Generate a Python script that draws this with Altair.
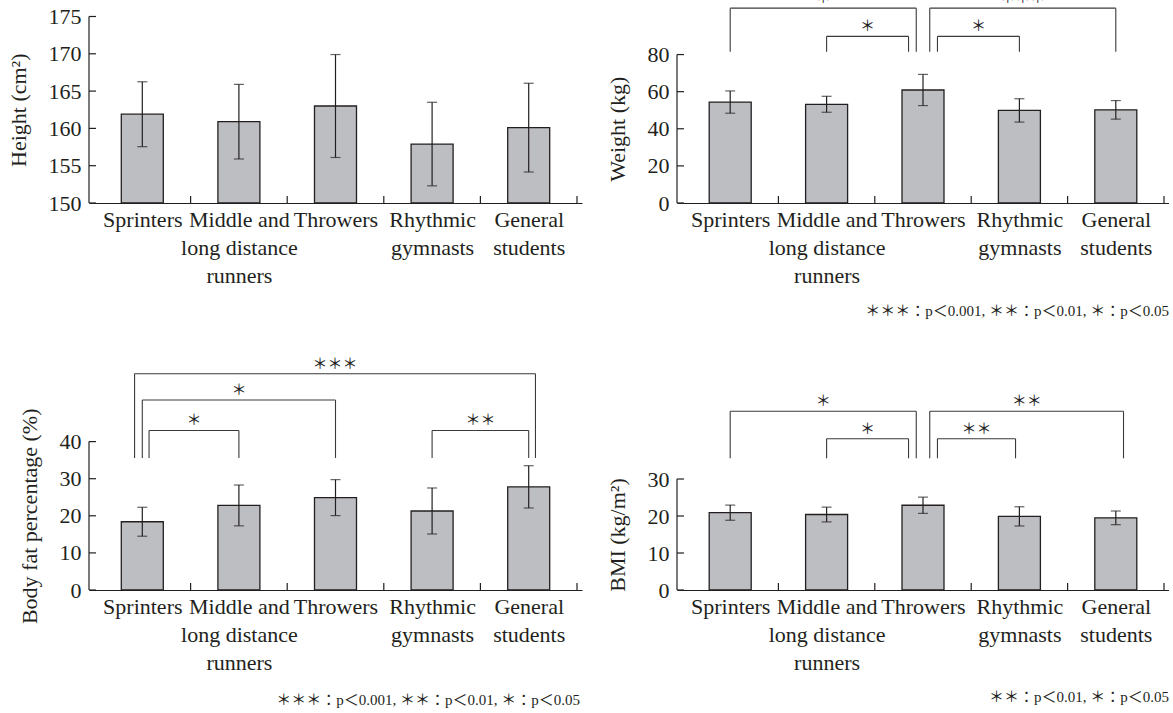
import json
import altair as alt
import pandas as pd

# ---------------- data ----------------
categories = ["Sprinters", "Middle and\nlong distance\nrunners", "Throwers",
              "Rhythmic\ngymnasts", "General\nstudents"]
cat_index = [0, 1, 2, 3, 4]
boundaries = [0.5, 1.5, 2.5, 3.5, 4.5]

height_mean = [161.9, 160.9, 163.0, 157.9, 160.1]
height_sd = [4.35, 5.0, 6.9, 5.6, 5.95]
weight_mean = [54.4, 53.2, 60.9, 49.9, 50.2]
weight_sd = [6.0, 4.3, 8.4, 6.3, 5.0]
fat_mean = [18.4, 22.8, 24.9, 21.3, 27.8]
fat_sd = [3.9, 5.5, 4.85, 6.2, 5.7]
bmi_mean = [20.9, 20.4, 22.9, 19.9, 19.5]
bmi_sd = [2.05, 2.0, 2.2, 2.6, 1.85]

height_ticks = [150, 155, 160, 165, 170, 175]
weight_ticks = [0, 20, 40, 60, 80]
fat_ticks = [0, 10, 20, 30, 40]
bmi_ticks = [0, 10, 20, 30]

# significance brackets: left end, right end, top level, label
weight_br_x1 = [0.0, 1.0, 2.15, 2.07]
weight_br_x2 = [1.93, 1.85, 3.0, 4.0]
weight_br_top = [105.0, 89.8, 89.8, 105.0]
weight_br_label = ["＊", "＊", "＊", "＊＊＊"]
weight_leg_bottom = 81.5

fat_br_x1 = [-0.08, 0.0, 0.07, 3.0]
fat_br_x2 = [4.07, 2.0, 1.0, 4.0]
fat_br_top = [58.3, 51.2, 43.0, 43.0]
fat_br_label = ["＊＊＊", "＊", "＊", "＊＊"]
fat_leg_bottom = 35.6

bmi_br_x1 = [0.0, 1.0, 2.15, 2.07]
bmi_br_x2 = [1.93, 1.85, 2.96, 4.08]
bmi_br_top = [48.3, 40.9, 40.9, 48.3]
bmi_br_label = ["＊", "＊", "＊＊", "＊＊"]
bmi_leg_bottom = 35.6

note3 = "＊＊＊：p＜0.001, ＊＊：p＜0.01, ＊：p＜0.05"
note2 = "＊＊：p＜0.01, ＊：p＜0.05"

# ---------------- style ----------------
SERIF = "Liberation Serif, Noto Sans CJK JP"
INK = "#231f20"
LINE = "#3a3a3a"
BAR_FILL = "#bdbec2"

label_lines = [c.split("\n") for c in categories]
label_expr = json.dumps(label_lines) + "[round(datum.value)]"


def make_panel(means, sds, base, ymax, ticks, ytitle, W, H,
               br=None, leg_bottom=None, note=None, note_dx=0, note_dy=108):
    df = pd.DataFrame({"idx": cat_index, "mean": means, "sd": sds})
    df["base"] = base
    df["lo"] = df["mean"] - df["sd"]
    df["hi"] = df["mean"] + df["sd"]

    xs = alt.Scale(domain=[-0.5, 4.5], nice=False, zero=False)
    ys = alt.Scale(domain=[base, ymax], nice=False, zero=False)
    center_px = H * (ymax - (ticks[0] + ticks[-1]) / 2) / (ymax - base)

    xaxis = alt.Axis(values=cat_index, labelExpr=label_expr, title=None,
                     grid=False, ticks=False, tickSize=0, domain=True,
                     domainColor=INK, domainWidth=1.2, labelFont=SERIF,
                     labelFontSize=22, labelColor=INK, labelPadding=6,
                     labelOverlap=False, labelFlush=False, labelLineHeight=28)
    yaxis = alt.Axis(values=ticks, title=ytitle, grid=False, ticks=False,
                     tickSize=0, domain=False, labelFont=SERIF,
                     labelFontSize=22, labelColor=INK, labelPadding=8,
                     titleFont=SERIF, titleFontSize=22,
                     titleFontWeight="normal", titleColor=INK,
                     titlePadding=18, titleY=center_px)

    def X(f):
        return alt.X(f, type="quantitative", scale=xs, axis=xaxis)

    def Y(f):
        return alt.Y(f, type="quantitative", scale=ys, axis=yaxis)

    base_chart = alt.Chart(df)
    bars = base_chart.mark_bar(size=42, fill=BAR_FILL, stroke=INK,
                               strokeWidth=1.3).encode(
        x=X("idx"), y=Y("mean"), y2="base")
    err = base_chart.mark_rule(color=INK, strokeWidth=1.2).encode(
        x=X("idx"), y=Y("lo"), y2="hi")
    cap_lo = base_chart.mark_tick(orient="horizontal", size=10, thickness=1.2,
                                  color=INK).encode(x=X("idx"), y=Y("lo"))
    cap_hi = base_chart.mark_tick(orient="horizontal", size=10, thickness=1.2,
                                  color=INK).encode(x=X("idx"), y=Y("hi"))

    ytick = alt.Chart(pd.DataFrame({"t": ticks})).mark_rule(
        color=INK, strokeWidth=1.2).encode(
        y=Y("t"), x=alt.value(0), x2=alt.value(7))
    ydom = alt.Chart(pd.DataFrame({"lo": [ticks[0]], "hi": [ticks[-1]]})).mark_rule(
        color=INK, strokeWidth=1.2).encode(
        x=alt.value(0), y=Y("lo"), y2="hi")
    xtick = alt.Chart(pd.DataFrame({"b": boundaries})).mark_rule(
        color=INK, strokeWidth=1.2).encode(
        x=X("b"), y=alt.value(H), y2=alt.value(H - 7))

    layers = [bars, err, cap_lo, cap_hi, ytick, ydom, xtick]

    if br is not None:
        x1, x2, top, lab = br
        bdf = pd.DataFrame({"x1": x1, "x2": x2, "top": top, "label": lab})
        bdf["mid"] = (bdf["x1"] + bdf["x2"]) / 2
        legs = pd.DataFrame({
            "x": list(x1) + list(x2),
            "top": list(top) + list(top),
        })
        legs["bottom"] = leg_bottom
        hline = alt.Chart(bdf).mark_rule(color=LINE, strokeWidth=1.1).encode(
            x=X("x1"), x2="x2", y=Y("top"))
        vline = alt.Chart(legs).mark_rule(color=LINE, strokeWidth=1.1).encode(
            x=X("x"), y=Y("bottom"), y2="top")
        stars = alt.Chart(bdf).mark_text(font=SERIF, fontSize=15, color="#222222",
                                         baseline="middle", dy=-10,
                                         clip=True).encode(
            x=X("mid"), y=Y("top"), text="label:N")
        layers += [hline, vline, stars]

    if note is not None:
        ndf = pd.DataFrame({"t": [note]})
        foot = alt.Chart(ndf).mark_text(font=SERIF, fontSize=15, color=INK,
                                        align="right", baseline="middle").encode(
            x=alt.value(W + note_dx), y=alt.value(H + note_dy), text="t:N")
        layers.append(foot)

    return alt.layer(*layers).properties(width=W, height=H)


H1 = 203
H2 = 250

p1 = make_panel(height_mean, height_sd, 150, 177.21, height_ticks,
                "Height (cm²)", 493, H1)
p2 = make_panel(weight_mean, weight_sd, 0, 109.4, weight_ticks,
                "Weight (kg)", 492, H1,
                br=(weight_br_x1, weight_br_x2, weight_br_top, weight_br_label),
                leg_bottom=weight_leg_bottom, note=note3, note_dx=0, note_dy=108)
p3 = make_panel(fat_mean, fat_sd, 0, 67.39, fat_ticks,
                "Body fat percentage (%)", 493, H2,
                br=(fat_br_x1, fat_br_x2, fat_br_top, fat_br_label),
                leg_bottom=fat_leg_bottom, note=note3, note_dx=-2, note_dy=110)
p4 = make_panel(bmi_mean, bmi_sd, 0, 67.57, bmi_ticks,
                "BMI (kg/m²)", 492, H2,
                br=(bmi_br_x1, bmi_br_x2, bmi_br_top, bmi_br_label),
                leg_bottom=bmi_leg_bottom, note=note2, note_dx=0, note_dy=107)

chart = alt.concat(p1, p2, p3, p4, columns=2, bounds="flush", align="each",
                   spacing={"row": 137, "column": 95}).properties(
    padding={"left": 7, "top": 0, "right": 0, "bottom": 0},
    background="white",
).configure_view(stroke=None)

chart.save("out.html", embed_options={"renderer": "svg", "actions": False})
